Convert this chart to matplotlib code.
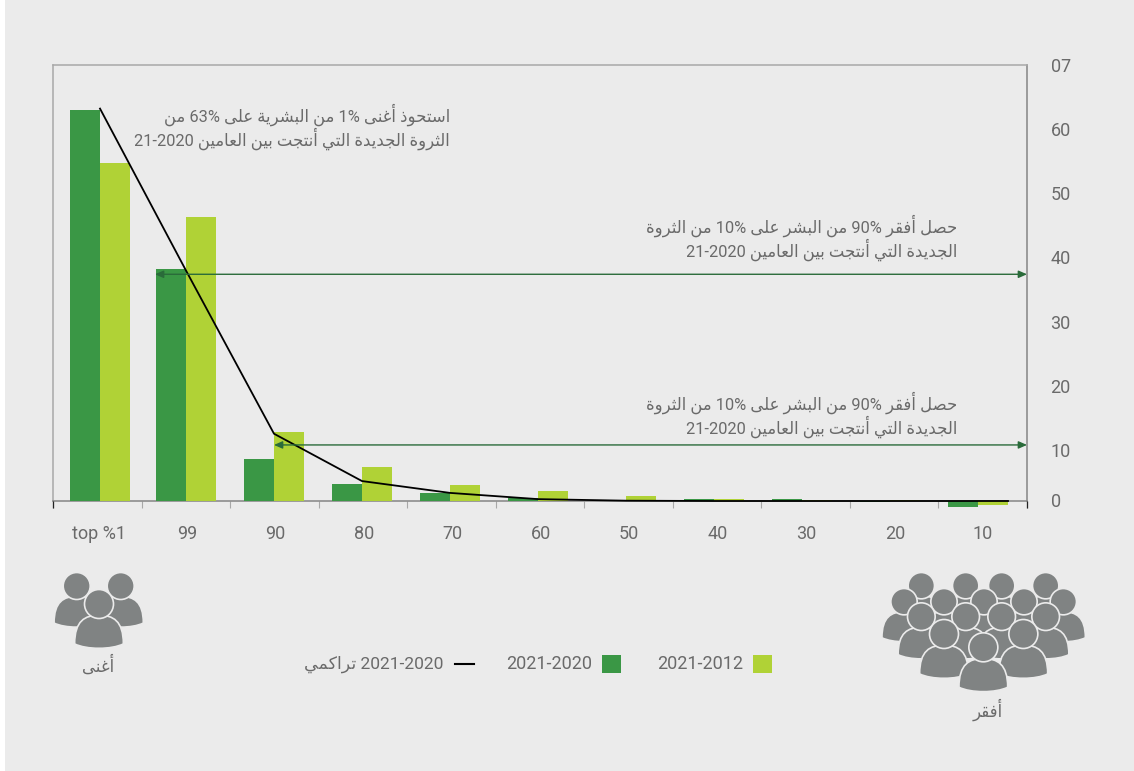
import matplotlib
matplotlib.use('Agg')
import matplotlib.pyplot as plt
from matplotlib.patches import Circle, PathPatch, Rectangle
from matplotlib.path import Path
import numpy as np

plt.rcParams['font.family'] = ['Roboto', 'DejaVu Sans']

categories = ['top %1', '99', '90', '80', '70', '60', '50', '40', '30', '20', '10']
series_2020 = [62.8, 37.2, 6.7, 2.7, 1.3, 0.5, 0.2, 0.25, 0.25, -0.2, -1.0]
series_2012 = [54.3, 45.6, 11.1, 5.5, 2.6, 1.6, 0.8, 0.35, 0.2, 0.2, -0.6]
cumulative = [63, 37, 10.8, 3.2, 1.3, 0.3, 0.05, 0.0, 0.0, 0.0, 0.0]
ytick_labels = ['0', '10', '20', '30', '40', '50', '60', '07']

DARK = '#3A9745'
LIGHT = '#B0D236'
BG = '#EBEBEB'
TXT = '#6A6A6A'
FRAME = '#A8A8A8'
FRAME_DK = '#858585'
ICON = '#808383'

# arabic letters -> presentation forms (isolated, final, initial, medial)
FORMS = {
    'ا': (0xFE8D, 0xFE8E), 'أ': (0xFE83, 0xFE84), 'ب': (0xFE8F, 0xFE90, 0xFE91, 0xFE92),
    'ة': (0xFE93, 0xFE94), 'ت': (0xFE95, 0xFE96, 0xFE97, 0xFE98),
    'ث': (0xFE99, 0xFE9A, 0xFE9B, 0xFE9C), 'ج': (0xFE9D, 0xFE9E, 0xFE9F, 0xFEA0),
    'ح': (0xFEA1, 0xFEA2, 0xFEA3, 0xFEA4), 'د': (0xFEA9, 0xFEAA), 'ذ': (0xFEAB, 0xFEAC),
    'ر': (0xFEAD, 0xFEAE), 'س': (0xFEB1, 0xFEB2, 0xFEB3, 0xFEB4),
    'ش': (0xFEB5, 0xFEB6, 0xFEB7, 0xFEB8), 'ص': (0xFEB9, 0xFEBA, 0xFEBB, 0xFEBC),
    'ع': (0xFEC9, 0xFECA, 0xFECB, 0xFECC), 'غ': (0xFECD, 0xFECE, 0xFECF, 0xFED0),
    'ف': (0xFED1, 0xFED2, 0xFED3, 0xFED4), 'ق': (0xFED5, 0xFED6, 0xFED7, 0xFED8),
    'ك': (0xFED9, 0xFEDA, 0xFEDB, 0xFEDC), 'ل': (0xFEDD, 0xFEDE, 0xFEDF, 0xFEE0),
    'م': (0xFEE1, 0xFEE2, 0xFEE3, 0xFEE4), 'ن': (0xFEE5, 0xFEE6, 0xFEE7, 0xFEE8),
    'و': (0xFEED, 0xFEEE), 'ى': (0xFEEF, 0xFEF0), 'ي': (0xFEF1, 0xFEF2, 0xFEF3, 0xFEF4),
}


def shape_word(w):
    out = []
    for i, c in enumerate(w):
        f = FORMS[c]
        prev = i > 0 and len(FORMS[w[i - 1]]) == 4
        nxt = i < len(w) - 1 and len(f) == 4
        if prev and nxt:
            out.append(chr(f[3]))
        elif nxt:
            out.append(chr(f[2]))
        elif prev:
            out.append(chr(f[1]))
        else:
            out.append(chr(f[0]))
    return ''.join(reversed(out))


def ar(s):
    # matplotlib does no shaping or bidi, words are laid out for it here
    words = []
    for w in s.split(' '):
        words.append(shape_word(w) if w[0] in FORMS else w)
    return ' '.join(reversed(words))


fig = plt.figure(figsize=(11.34, 7.71), dpi=100, facecolor='white')
W, H = 1134, 771

# gray panel + everything placed in pixels
over = fig.add_axes([0, 0, 1, 1], zorder=0)
over.set_xlim(0, W)
over.set_ylim(H, 0)
over.axis('off')
over.add_patch(Rectangle((5, 0), W - 5, H, fc=BG, ec='none'))

ax = fig.add_axes([53 / W, 1 - 501 / H, 974 / W, 436 / H], zorder=2)
ax.patch.set_alpha(0)

step = 88.0
x = np.arange(len(categories), dtype=float)
x[0] += 2 / step  # first group sits a bit closer to the second one
ax.set_xlim((53 - 98) / step, (1027 - 98) / step)
ax.set_ylim(0, 70)
bw = 30 / step
ax.bar(x - bw / 2, series_2020, bw, color=DARK, clip_on=False, zorder=3)
ax.bar(x + bw / 2, series_2012, bw, color=LIGHT, clip_on=False, zorder=3)
line_x = x.copy()
line_x[-1] += bw
ax.plot(line_x, cumulative, color='black', lw=1.3, clip_on=False, zorder=4)

for s in ax.spines.values():
    s.set_color(FRAME)
    s.set_linewidth(1.1)
ax.spines['bottom'].set_color(FRAME_DK)
ax.spines['right'].set_color(FRAME_DK)

ax.set_xticks(np.linspace(*ax.get_xlim(), 12))
ax.set_xticklabels([])
ax.tick_params(axis='x', which='major', length=5, width=0.8, color=FRAME)
# the two end ticks are darker than the rest
ax.vlines(ax.get_xlim(), -1.1, 0, color='#222222', lw=0.9, clip_on=False, zorder=4)
ax.set_xticks((np.array([99, 187, 275, 364, 452, 541, 629, 718, 806, 895, 983]) - 98) / step, minor=True)
ax.set_xticklabels(categories, minor=True, fontsize=13, color=TXT)
ax.tick_params(axis='x', which='minor', length=0, pad=17.5)
ax.set_ylim(0, 70)

ax.yaxis.tick_right()
ax.set_yticks([0.2, 8.2, 18.5, 28.8, 39.1, 49.4, 59.7, 70.0])
ax.set_yticklabels(ytick_labels, fontsize=13, color=TXT)
ax.tick_params(axis='y', length=0, pad=17)

# arrows across the plot
for y_val, x_from in [(36.4, 0.648), (9.0, 2.0)]:
    ax.annotate('', xy=(ax.get_xlim()[1], y_val), xytext=(x_from, y_val),
                arrowprops=dict(arrowstyle='<|-|>,head_length=0.5,head_width=0.22',
                                color='#2A6B3A', lw=1, shrinkA=0, shrinkB=0), zorder=5)

notes = [
    (450, 115, 'استحوذ أغنى 1% من البشرية على 63% من'),
    (450, 139, 'الثروة الجديدة التي أنتجت بين العامين 21-2020'),
    (957, 226, 'حصل أفقر 90% من البشر على 10% من الثروة'),
    (957, 250, 'الجديدة التي أنتجت بين العامين 21-2020'),
    (957, 403, 'حصل أفقر 90% من البشر على 10% من الثروة'),
    (957, 427, 'الجديدة التي أنتجت بين العامين 21-2020'),
]
top = fig.add_axes([0, 0, 1, 1], zorder=3)
top.set_xlim(0, W)
top.set_ylim(H, 0)
top.axis('off')
for px, py, t in notes:
    top.text(px, py, ar(t), ha='right', va='center', fontsize=11.9, color=TXT)

# legend
top.add_patch(Rectangle((753, 655), 19, 18, fc=LIGHT, ec='none'))
top.text(743, 664, '2021-2012', ha='right', va='center', fontsize=13, color=TXT)
top.add_patch(Rectangle((602, 655), 19, 18, fc=DARK, ec='none'))
top.text(592, 664, '2021-2020', ha='right', va='center', fontsize=13, color=TXT)
top.plot([455, 474], [664, 664], color='black', lw=1.5)
top.text(443, 664, ar('2021-2020 تراكمي'), ha='right', va='center', fontsize=12.5, color=TXT)


def person(cx, cy, r):
    hw, y0, y1 = 1.74 * r, cy + 0.8 * r, cy + 3.15 * r
    verts = [
        (cx - hw, y1 - 0.3 * r), (cx - hw, y0 + 0.4 * r), (cx - 1.0 * r, y0), (cx, y0),
        (cx + 1.0 * r, y0), (cx + hw, y0 + 0.4 * r), (cx + hw, y1 - 0.3 * r),
        (cx + 0.9 * r, y1 + 0.12 * r), (cx - 0.9 * r, y1 + 0.12 * r), (cx - hw, y1 - 0.3 * r),
        (cx - hw, y1 - 0.3 * r),
    ]
    codes = [Path.MOVETO] + [Path.CURVE4] * 9 + [Path.CLOSEPOLY]
    top.add_patch(PathPatch(Path(verts, codes), fc=ICON, ec=BG, lw=1.2))
    top.add_patch(Circle((cx, cy), r + 0.5, fc=ICON, ec=BG, lw=1.2))


# rich group
person(76.7, 586, 13)
person(120.7, 586, 13)
person(99, 604, 14)
top.text(98, 664, ar('أغنى'), ha='center', va='center', fontsize=12, color=TXT)

# poor group, zoomed crop coordinates at 3x
rows = [
    (38, [154, 287, 395, 527], 77),
    (38, [102, 222, 342, 462, 580], 125),
    (40, [154, 287, 395, 527], 170),
    (42, [222, 460], 222),
    (42, [340], 262),
]
for r, xs, yc in rows:
    for xc in xs:
        person(870 + xc / 3, 560 + yc / 3, r / 3)
top.text(988, 710, ar('أفقر'), ha='center', va='center', fontsize=12, color=TXT)

fig.savefig('out.png', dpi=100, facecolor=fig.get_facecolor())
